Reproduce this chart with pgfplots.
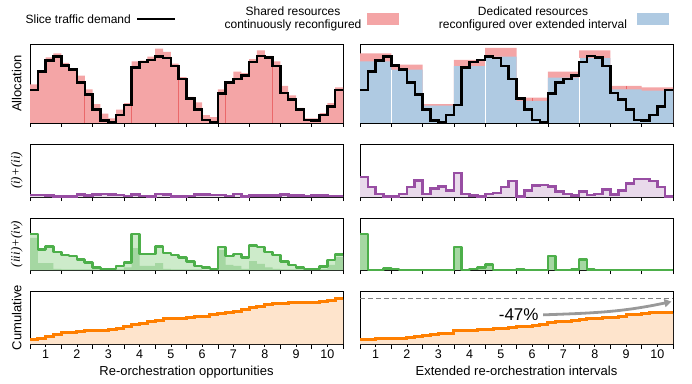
\documentclass[border=0pt]{standalone}
\usepackage{pgfplots}
\pgfplotsset{compat=1.18}
\usepackage{pgfplotstable}
\usepackage{fontspec}
\setmainfont{Liberation Sans}
\newfontfamily\serifit{Liberation Serif}
\usetikzlibrary{arrows.meta}

\definecolor{redfill}{RGB}{244,165,166}
\definecolor{redline}{RGB}{234,104,106}
\definecolor{bluefill}{RGB}{175,202,226}
\definecolor{purp}{RGB}{152,78,163}
\definecolor{purpfill}{RGB}{233,218,235}
\definecolor{grn}{RGB}{77,175,74}
\definecolor{grnfill}{RGB}{205,235,202}
\definecolor{grndark}{RGB}{165,215,162}
\definecolor{orng}{RGB}{255,127,0}
\definecolor{orngfill}{RGB}{254,228,204}

\pgfplotstableread{
x     dem   red   pL    pR    gL    gD    gR    cL    cR
0.00  0.42  0.49  0.040 0.375 0.69  0.62  0.69  0.082 0.094
0.25  0.65  0.67  0.040 0.185 0.40  0.13  0.00  0.113 0.094
0.50  0.79  0.83  0.025 0.057 0.45  0.13  0.00  0.145 0.100
0.75  0.84  0.88  0.010 0.013 0.35  0.02  0.025 0.176 0.100
1.00  0.73  0.76  0.010 0.013 0.29  0.01  0.02  0.208 0.107
1.25  0.675 0.69  0.015 0.057 0.27  0.01  0.00  0.226 0.113
1.50  0.51  0.60  0.050 0.185 0.205 0.01  0.00  0.239 0.132
1.75  0.36  0.425 0.030 0.310 0.14  0.01  0.00  0.250 0.145
2.00  0.17  0.24  0.050 0.057 0.05  0.01  0.00  0.258 0.157
2.25  0.03  0.12  0.055 0.165 0.02  0.00  0.00  0.264 0.176
2.50  0.01  0.06  0.050 0.200 0.02  0.00  0.00  0.270 0.189
2.75  0.10  0.17  0.040 0.120 0.08  0.01  0.00  0.290 0.200
3.00  0.23  0.25  0.020 0.450 0.15  0.05  0.44  0.333 0.250
3.25  0.70  0.78  0.050 0.057 0.69  0.42  0.00  0.365 0.258
3.50  0.77  0.79  0.020 0.025 0.31  0.08  0.02  0.396 0.264
3.75  0.80  0.84  0.015 0.005 0.31  0.08  0.05  0.428 0.270
4.00  0.84  0.94  0.055 0.057 0.45  0.13  0.11  0.447 0.277
4.25  0.825 0.90  0.045 0.075 0.33  0.02  0.00  0.472 0.289
4.50  0.72  0.75  0.015 0.185 0.29  0.01  0.00  0.484 0.296
4.75  0.56  0.58  0.015 0.300 0.24  0.01  0.00  0.490 0.308
5.00  0.31  0.33  0.020 0.005 0.16  0.01  0.015 0.503 0.321
5.25  0.17  0.26  0.050 0.120 0.077 0.01  0.00  0.510 0.333
5.50  0.04  0.10  0.045 0.215 0.045 0.00  0.00  0.516 0.352
5.75  0.01  0.075 0.040 0.230 0.02  0.00  0.00  0.553 0.371
6.00  0.375 0.425 0.040 0.200 0.44  0.38  0.27  0.572 0.409
6.25  0.51  0.53  0.020 0.100 0.27  0.10  0.00  0.597 0.428
6.50  0.555 0.65  0.055 0.057 0.31  0.08  0.00  0.616 0.434
6.75  0.60  0.63  0.015 0.025 0.24  0.02  0.01  0.648 0.447
7.00  0.77  0.81  0.025 0.100 0.47  0.17  0.205 0.680 0.459
7.25  0.85  0.92  0.025 0.040 0.44  0.12  0.01  0.710 0.472
7.50  0.83  0.85  0.030 0.057 0.35  0.05  0.00  0.742 0.484
7.75  0.72  0.78  0.030 0.140 0.29  0.02  0.00  0.755 0.497
8.00  0.38  0.47  0.045 0.045 0.16  0.01  0.00  0.767 0.509
8.25  0.30  0.35  0.025 0.120 0.096 0.01  0.00  0.774 0.528
8.50  0.17  0.19  0.025 0.250 0.05  0.01  0.00  0.780 0.553
8.75  0.04  0.06  0.020 0.340 0.02  0.00  0.00  0.786 0.566
9.00  0.03  0.06  0.025 0.340 0.02  0.00  0.00  0.790 0.578
9.25  0.10  0.125 0.025 0.300 0.064 0.02  0.00  0.805 0.585
9.50  0.21  0.25  0.020 0.185 0.19  0.10  0.00  0.830 0.590
9.75  0.42  0.45  0.020 0.013 0.30  0.25  0.00  0.855 0.590
10.00 0.42  0.45  0.020 0.013 0.30  0.25  0.00  0.855 0.590
}\steps

\pgfplotstableread{
x  blue  red
0  0.78  0.88
1  0.675 0.74
2  0.22  0.24
3  0.72  0.80
4  0.84  0.95
5  0.28  0.32
6  0.575 0.65
7  0.82  0.92
8  0.425 0.47
9  0.41  0.45
10 0.41  0.45
}\intervals

\pgfplotsset{
  panel/.style={scale only axis, width=313pt, xmin=0, xmax=10, ymin=0, ymax=1,
    ytick=\empty, xtick={0,...,10}, xticklabels={}, tick align=outside,
    xtick pos=bottom, major tick length=4pt,
    tick style={black, line width=0.6pt}, axis line style={line width=0.7pt},
    anchor=south west,
    every axis y label/.style={at={(axis description cs:-0.042,0.5)}, rotate=90, anchor=center, font=\fontsize{13}{15}\selectfont},
    every axis x label/.style={at={(axis description cs:0.5,0)}, anchor=north, yshift=-19pt, font=\fontsize{13}{15}\selectfont},
    tick label style={font=\fontsize{12.5}{14}\selectfont},
    /pgf/number format/assume math mode=true},
  bottomrow/.style={xtick={0.5,1.5,...,9.5}, xticklabels={1,2,3,4,5,6,7,8,9,10},
    major tick length=2.5pt, extra x ticks={0,1,...,10}, extra x tick labels={},
    extra x tick style={major tick length=5pt}},
  stp/.style={const plot, mark=none},
}

\begin{document}
\begin{tikzpicture}
\useasboundingbox (0pt,0pt) rectangle (692pt,383pt);

% legend
\node[anchor=east, inner sep=0pt, font=\fontsize{12}{13}\selectfont] at (131pt,364pt) {Slice traffic demand};
\draw[black, line width=2.8pt] (137pt,364pt) -- (175pt,364pt);
\node[align=center, inner sep=0pt, font=\fontsize{12}{13}\selectfont] at (293pt,364.5pt) {Shared resources\\continuously reconfigured};
\fill[redfill] (367pt,358pt) rectangle (399pt,370pt);
\node[align=center, inner sep=0pt, font=\fontsize{12}{13}\selectfont] at (533pt,364.5pt) {Dedicated resources\\reconfigured over extended interval};
\fill[bluefill] (637pt,358pt) rectangle (669pt,370pt);

% Row 1 left
\begin{axis}[panel, at={(30pt,260pt)}, height=79pt, ylabel={Allocation}]
\addplot[stp, fill=redfill, draw=none] table[x=x,y=red]{\steps} \closedcycle;
\addplot[redline, line width=0.7pt] coordinates {(1.75,0) (1.75,0.36)};
\addplot[redline, line width=0.7pt] coordinates {(3.25,0) (3.25,0.70)};
\addplot[redline, line width=0.7pt] coordinates {(4.75,0) (4.75,0.56)};
\addplot[redline, line width=0.7pt] coordinates {(6.25,0) (6.25,0.51)};
\addplot[redline, line width=0.7pt] coordinates {(7.75,0) (7.75,0.72)};
\addplot[stp, black, line width=2.5pt] table[x=x,y=dem]{\steps};
\end{axis}

% Row 1 right
\begin{axis}[panel, at={(360pt,260pt)}, height=79pt]
\addplot[stp, fill=redfill, draw=none] table[x=x,y=red]{\intervals} \closedcycle;
\addplot[stp, fill=bluefill, draw=none] table[x=x,y=blue]{\intervals} \closedcycle;
\addplot[white, line width=0.9pt] coordinates {(1,0) (1,0.675)};
\addplot[white, line width=0.9pt] coordinates {(4,0) (4,0.84)};
\addplot[white, line width=0.9pt] coordinates {(7,0) (7,0.82)};
\addplot[redline, line width=0.7pt] coordinates {(5.5,0.28) (5.5,0.32)};
\addplot[redline, line width=0.7pt] coordinates {(8.5,0.425) (8.5,0.47)};
\addplot[stp, black, line width=2.5pt] table[x=x,y=dem]{\steps};
\end{axis}

% Row 2
\begin{axis}[panel, at={(30pt,186pt)}, height=53pt, ylabel={\serifit\itshape (i)+(ii)}]
\addplot[stp, fill=purpfill, draw=none] table[x=x,y=pL]{\steps} \closedcycle;
\addplot[stp, purp, line width=2.6pt] table[x=x,y=pL]{\steps};
\end{axis}
\begin{axis}[panel, at={(360pt,186pt)}, height=53pt]
\addplot[stp, fill=purpfill, draw=none] table[x=x,y=pR]{\steps} \closedcycle;
\addplot[stp, purp, line width=2.6pt] table[x=x,y=pR]{\steps};
\end{axis}

% Row 3
\begin{axis}[panel, at={(30pt,113pt)}, height=52pt, ylabel={\serifit\itshape (iii)+(iv)}]
\addplot[stp, fill=grnfill, draw=none] table[x=x,y=gL]{\steps} \closedcycle;
\addplot[stp, fill=grndark, draw=none] table[x=x,y=gD]{\steps} \closedcycle;
\addplot[stp, grn, line width=2.6pt, line join=round] table[x=x,y=gL]{\steps};
\end{axis}
\begin{axis}[panel, at={(360pt,113pt)}, height=52pt]
\addplot[stp, fill=grndark, draw=none] table[x=x,y=gR]{\steps} \closedcycle;
\addplot[stp, grn, line width=2.6pt, line join=round] table[x=x,y=gR]{\steps};
\end{axis}

% Row 4
\begin{axis}[panel, bottomrow, at={(30pt,39pt)}, height=53pt, ylabel={Cumulative},
  xlabel={Re-orchestration opportunities}]
\addplot[stp, fill=orngfill, draw=none] table[x=x,y=cL]{\steps} \closedcycle;
\addplot[stp, orng, line width=3pt] table[x=x,y=cL]{\steps};
\end{axis}
\begin{axis}[panel, bottomrow, at={(360pt,39pt)}, height=53pt,
  xlabel={Extended re-orchestration intervals}]
\addplot[stp, fill=orngfill, draw=none] table[x=x,y=cR]{\steps} \closedcycle;
\addplot[stp, orng, line width=3pt] table[x=x,y=cR]{\steps};
\addplot[gray, line width=0.9pt, dash pattern=on 5pt off 3pt] coordinates {(0,0.855) (10,0.855)};
\draw[-{Triangle[length=7pt,width=8pt]}, line width=2.8pt, black!40]
  (axis cs:5.85,0.55) to[out=2, in=192] (axis cs:9.95,0.80);
\node[font=\fontsize{17}{19}\selectfont, inner sep=1pt] at (axis cs:5.07,0.56) {-47\%};
\end{axis}
\end{tikzpicture}
\end{document}
